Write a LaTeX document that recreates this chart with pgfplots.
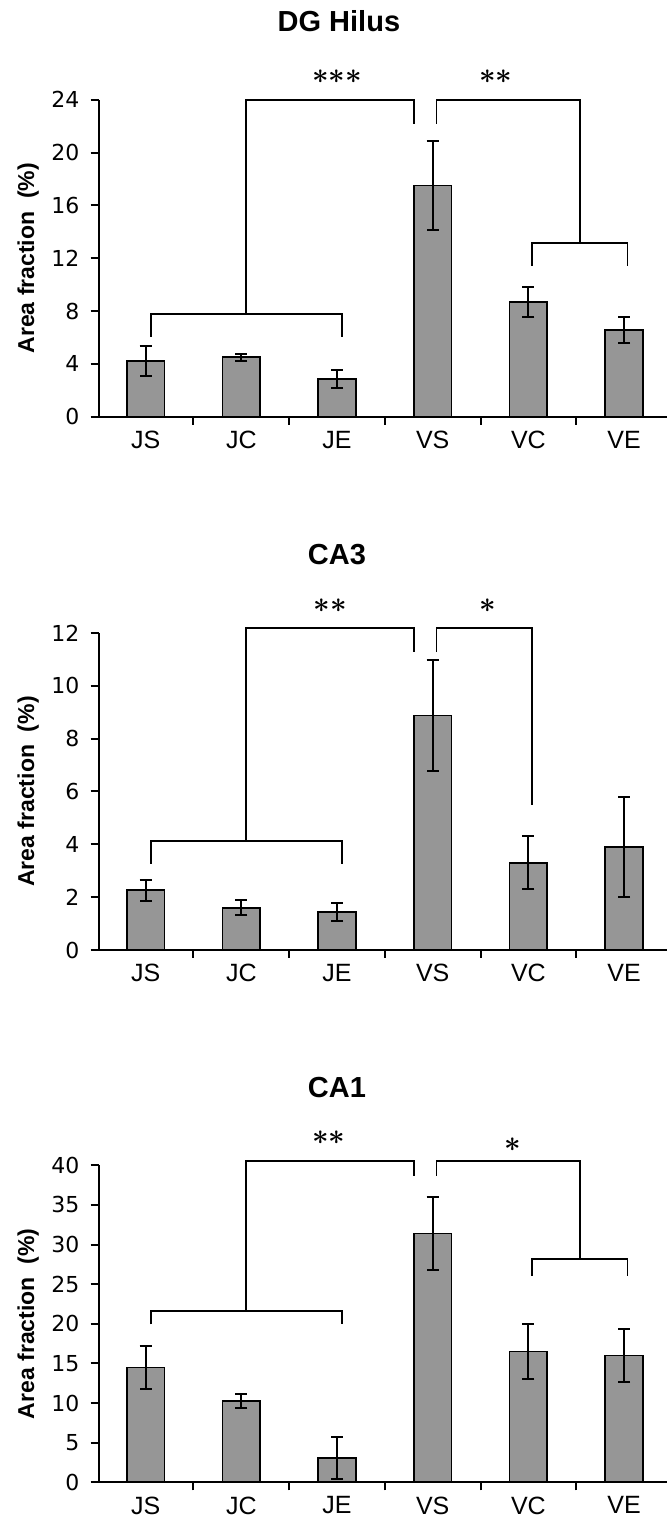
\documentclass[border=0pt]{standalone}
\usepackage{fontspec}
\setmainfont{Liberation Sans}
\newfontfamily\tickfont{DejaVu Sans}
\usepackage{pgfplots}
\pgfplotsset{compat=1.18}
\definecolor{barfill}{RGB}{150,150,150}
\pgfplotsset{
  panel/.style={
    scale only axis, width=284pt, height=158.5pt,
    anchor=south west,
    xmin=-0.49, xmax=5.445, ymin=0,
    axis x line*=bottom, axis y line*=left,
    axis line style={line width=1pt, black},
    clip=false,
    xtick={0,1,2,3,4,5},
    xticklabels={JS,JC,JE,VS,VC,VE},
    major x tick style={draw=none},
    minor xtick={-0.5,0.5,1.5,2.5,3.5,4.5},
    minor x tick style={line width=1pt, black},
    minor tick length=4pt,
    major tick length=4pt,
    tick align=outside,
    y tick style={line width=1pt, black},
    xticklabel style={font=\fontsize{12.5pt}{12.5pt}\selectfont, inner sep=0pt, anchor=north, yshift=-3pt},
    yticklabel style={font=\tickfont\fontsize{11pt}{11pt}\selectfont, inner sep=0pt, anchor=east, xshift=-5.5pt},
    /pgf/number format/assume math mode=true,
    every axis y label/.style={at={(axis description cs:-0.124,0.5)}, rotate=90, anchor=center,
      font=\fontsize{11.5pt}{11.5pt}\selectfont\bfseries},
    ylabel={Area fraction \ (\%)},
  },
  bars/.style={ybar, bar width=18.85pt, fill=barfill, draw=black, line width=0.8pt,
    error bars/.cd, y dir=both, y explicit,
    error bar style={line width=1pt, black},
    error mark options={rotate=90, line width=1pt, black, mark size=3pt}},
  brk/.style={black, line width=0.9pt, sharp plot, mark=none, forget plot},
}
\newcommand{\titlefont}{\fontsize{14.5pt}{14.5pt}\selectfont\bfseries}
\newcommand{\starfont}{\fontsize{15.5pt}{15.5pt}\selectfont\boldmath}
\begin{document}
\begin{tikzpicture}
\path[use as bounding box] (0,0) rectangle (333.5pt,761pt);
% ---------- DG Hilus ----------
\begin{axis}[panel, at={(49.35pt,552.65pt)}, ymax=24, ytick={0,4,8,12,16,20,24}]
\addplot[bars] table[x=x, y=y, y error=e] {
x y e
0 4.2 1.13
1 4.5 0.28
2 2.85 0.70
3 17.5 3.37
4 8.7 1.14
5 6.55 0.98
};
\addplot[brk] coordinates {(0.056,6.06) (0.056,7.78) (2.049,7.78) (2.049,6.06)};
\addplot[brk] coordinates {(1.048,7.78) (1.048,23.95) (2.804,23.95) (2.804,22.18)};
\addplot[brk] coordinates {(3.039,22.18) (3.039,23.95) (4.539,23.95) (4.539,13.14)};
\addplot[brk] coordinates {(4.04,11.42) (4.04,13.14) (5.036,13.14) (5.036,11.42)};
\node[font=\starfont] at (axis cs:2.0,25.74) {${\ast}{\ast}{\ast}$};
\node[font=\starfont] at (axis cs:3.66,25.74) {${\ast}{\ast}$};
\node[font=\titlefont, anchor=base] at (axis cs:2.02,29.19) {DG Hilus};
\end{axis}
% ---------- CA3 ----------
\begin{axis}[panel, at={(49.35pt,286pt)}, ymax=12, ytick={0,2,4,6,8,10,12}]
\addplot[bars] table[x=x, y=y, y error=e] {
x y e
0 2.26 0.39
1 1.60 0.28
2 1.43 0.35
3 8.88 2.09
4 3.30 1.00
5 3.90 1.88
};
\addplot[brk] coordinates {(0.056,3.27) (0.056,4.12) (2.049,4.12) (2.049,3.27)};
\addplot[brk] coordinates {(1.048,4.12) (1.048,12.18) (2.804,12.18) (2.804,11.28)};
\addplot[brk] coordinates {(3.039,11.28) (3.039,12.18) (4.04,12.18) (4.04,5.49)};
\node[font=\starfont] at (axis cs:1.93,13.03) {${\ast}{\ast}$};
\node[font=\starfont] at (axis cs:3.58,13.03) {$\ast$};
\node[font=\titlefont, anchor=base] at (axis cs:2.0,14.58) {CA3};
\end{axis}
% ---------- CA1 ----------
\begin{axis}[panel, at={(49.35pt,19.85pt)}, ymax=40, ytick={0,5,10,15,20,25,30,35,40}]
\addplot[bars] table[x=x, y=y, y error=e] {
x y e
0 14.5 2.70
1 10.27 0.90
2 3.06 2.60
3 31.4 4.60
4 16.5 3.50
5 16.0 3.35
};
\addplot[brk] coordinates {(0.056,19.92) (0.056,21.64) (2.049,21.64) (2.049,19.92)};
\addplot[brk] coordinates {(1.048,21.64) (1.048,40.5) (2.804,40.5) (2.804,38.7)};
\addplot[brk] coordinates {(3.039,38.7) (3.039,40.5) (4.539,40.5) (4.539,28.13)};
\addplot[brk] coordinates {(4.04,26.04) (4.04,28.13) (5.036,28.13) (5.036,26.04)};
\node[font=\starfont] at (axis cs:1.915,43.5) {${\ast}{\ast}$};
\node[font=\starfont] at (axis cs:3.84,42.6) {$\ast$};
\node[font=\titlefont, anchor=base] at (axis cs:2.0,48.54) {CA1};
\end{axis}
\end{tikzpicture}
\end{document}
